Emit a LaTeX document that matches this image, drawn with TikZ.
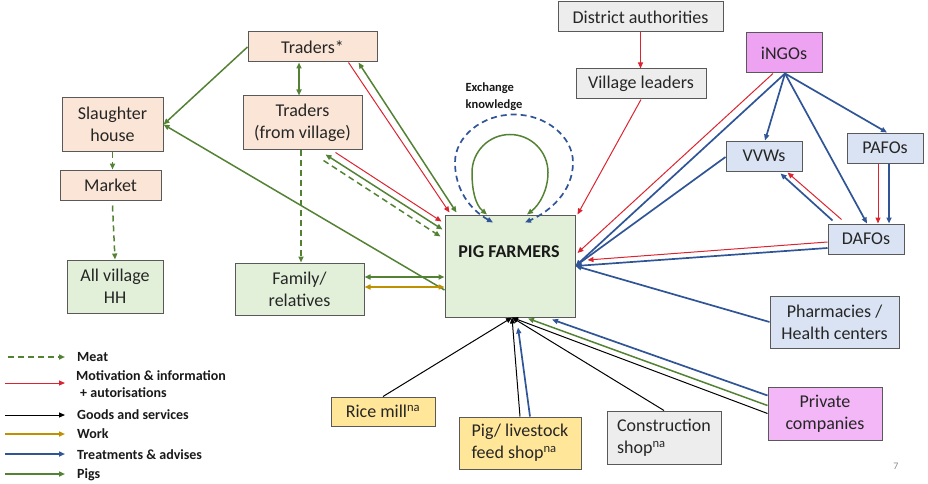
\documentclass[tikz,border=0pt]{standalone}
\usepackage{fontspec}
\setmainfont{Carlito}
\usetikzlibrary{arrows.meta,calc}
\definecolor{pinkf}{HTML}{FBE5D6}
\definecolor{greenf}{HTML}{E2F0D9}
\definecolor{grayf}{HTML}{EDEDED}
\definecolor{bluef}{HTML}{DAE3F3}
\definecolor{violf}{HTML}{EEA2F2}
\definecolor{violf2}{HTML}{F3B6F6}
\definecolor{yellowf}{HTML}{FFE699}
\definecolor{bordc}{HTML}{595959}
\definecolor{gl}{HTML}{548235}
\definecolor{rl}{HTML}{DC2430}
\definecolor{bll}{HTML}{2F5597}
\definecolor{gold}{HTML}{BF9000}
\begin{document}
\begin{tikzpicture}[x=1pt,y=-1pt,
  box/.style={draw=bordc, line width=1pt, inner sep=0pt, align=center, text=black!85,
    font=\fontsize{18}{22}\selectfont},
  arr/.style={-{Triangle[length=6pt,width=5pt]}},
  darr/.style={{Triangle[length=6pt,width=5pt]}-{Triangle[length=6pt,width=5pt]}},
  gline/.style={draw=gl, line width=1.5pt},
  rline/.style={draw=rl, line width=1pt},
  bline/.style={draw=bll, line width=1.7pt},
  kline/.style={draw=black, line width=1pt},
  oline/.style={draw=gold, line width=1.5pt},
  mdash/.style={dash pattern=on 6pt off 4pt},
  legtext/.style={font=\bfseries\fontsize{14}{17}\selectfont, text=black!90, inner sep=0pt, anchor=west, align=left}
]
\useasboundingbox (0,0) rectangle (928,484);

% boxes
\node[box,fill=pinkf,minimum width=129pt,minimum height=30pt] (trs) at (312.5,47) {Traders*};
\node[box,fill=pinkf,minimum width=101pt,minimum height=53pt] (sl) at (112.5,124.5) {Slaughter\\house};
\node[box,fill=pinkf,minimum width=119pt,minimum height=53pt] (trv) at (302.5,122.5) {Traders\\(from village)};
\node[box,fill=pinkf,minimum width=101pt,minimum height=30pt] (mk) at (110.5,185) {Market};
\node[box,fill=greenf,minimum width=96pt,minimum height=53pt] (hh) at (115,286.5) {All village\\HH};
\node[box,fill=greenf,minimum width=129pt,minimum height=52pt] (fam) at (299.5,289) {Family/\\relatives};
\node[box,fill=greenf,minimum width=130pt,minimum height=102pt] (pf) at (510,266) {};
\node[font=\bfseries\fontsize{18}{22}\selectfont, text=black!90] (pft) at (509,252) {PIG FARMERS};
\node[box,fill=grayf,minimum width=165pt,minimum height=30pt] (da) at (640.5,17) {District authorities};
\node[box,fill=grayf,minimum width=130pt,minimum height=30pt] (vl) at (641,84) {Village leaders};
\node[box,fill=violf,minimum width=76pt,minimum height=40pt] (ingo) at (784,53) {iNGOs};
\node[box,fill=bluef,minimum width=76pt,minimum height=30pt] (vvw) at (764,156) {VVWs};
\node[box,fill=bluef,minimum width=76pt,minimum height=30pt] (pafo) at (885,148) {PAFOs};
\node[box,fill=bluef,minimum width=76pt,minimum height=30pt] (dafo) at (866,239) {DAFOs};
\node[box,fill=bluef,minimum width=129pt,minimum height=52pt] (ph) at (834.5,322) {Pharmacies /\\Health centers};
\node[box,fill=violf2,minimum width=114pt,minimum height=53pt] (pc) at (825,413.5) {Private\\companies};
\node[box,fill=grayf,minimum width=114pt,minimum height=53pt,align=left] (cs) at (664,437.5) {Construction\\shop\textsuperscript{na}};
\node[box,fill=yellowf,minimum width=122pt,minimum height=52pt,align=left] (fs) at (520,443) {Pig/ livestock\\feed shop\textsuperscript{na}};
\node[box,fill=yellowf,minimum width=104pt,minimum height=29pt] (rm) at (383,411.5) {Rice mill\textsuperscript{na}};

% exchange knowledge
\node[font=\bfseries\fontsize{12.5}{17}\selectfont, align=left, inner sep=0pt, text=black!90] (ek) at (494,97) {Exchange\\knowledge};

% left side
\draw[gline,arr] (trs.west) -- (sl.east);
\draw[gline,arr] ($(pf.west)+(0,24)$) -- (sl.east);
\draw[gline,darr] ($(trs.south)+(-13.5,0)$) -- ($(trv.north)+(-3.5,0)$);
\draw[gline,mdash,arr] (sl.south) -- (sl.south |- mk.north);
\draw[gline,mdash,arr] ($(mk.south)+(2,5)$) -- (hh.north);
\draw[gline,mdash,arr] ($(trv.south)+(-1.5,0)$) -- ($(fam.north)+(1.5,0)$);

\draw[rline,arr] ($(trs.south east)+(-29,0)$) -- ($(pf.north west)+(5,-2)$);
\draw[gline,darr] ($(trs.south east)+(-19,0)$) -- ($(pf.north west)+(12,-2)$);
\draw[rline,arr] ($(trv.south east)+(-27,3)$) -- ($(pf.north west)+(-3,7)$);
\draw[gline,darr] ($(trv.south east)+(-37,5)$) -- ($(pf.north west)+(-2,15)$);
\draw[gline,mdash,arr] ($(trv.south east)+(-39,11)$) -- ($(pf.north west)+(-4,22)$);

\draw[gline,darr] ($(fam.east)+(0,-12)$) -- ($(pf.west)+(0,11)$);
\draw[oline,darr] ($(fam.east)+(0,-2)$) -- ($(pf.west)+(0,21)$);

% loops (pig farmers to pig farmers)
\coordinate (gc) at ($(pf.north)+(0,-42)$);
\coordinate (bc) at ($(pf.north)+(4,-52)$);
\draw[gline,darr] ($(pf.north)+(-23,0)$)
  .. controls ($(gc)+(-35,32)$) and ($(gc)+(-38,17)$) .. ($(gc)+(-38,0)$)
  .. controls ($(gc)+(-38,-21)$) and ($(gc)+(-21,-38)$) .. ($(gc)+(0,-38)$)
  .. controls ($(gc)+(21,-38)$) and ($(gc)+(38,-21)$) .. ($(gc)+(38,0)$)
  .. controls ($(gc)+(38,17)$) and ($(gc)+(30,32)$) .. ($(pf.north)+(17,0)$);
\draw[bline,mdash,darr] ($(pf.north)+(-17,8)$)
  .. controls ($(bc)+(-44,47)$) and ($(bc)+(-59,27)$) .. ($(bc)+(-59,0)$)
  .. controls ($(bc)+(-59,-26)$) and ($(bc)+(-32,-48)$) .. ($(bc)+(0,-48)$)
  .. controls ($(bc)+(32,-48)$) and ($(bc)+(59,-26)$) .. ($(bc)+(59,0)$)
  .. controls ($(bc)+(59,29)$) and ($(bc)+(36,49)$) .. ($(pf.north)+(15,8)$);

% top right
\draw[rline,arr] (da.south) -- (da.south |- vl.north);
\draw[rline,arr] (vl.south) -- ($(pf.north east)+(2,0)$);
\draw[rline,arr] ($(ingo.south)+(-11,0)$) -- ($(pf.east)+(2,-13)$);
\draw[bline,arr] ($(ingo.south)+(1,0)$) -- (pf.east);
\draw[bline,arr] ($(vvw.west)+(0,1)$) -- (pf.east);
\draw[rline,arr] ($(dafo.west)+(0,3)$) -- ($(pf.east)+(12,-6)$);
\draw[bline,arr] ($(dafo.west)+(0,9)$) -- (pf.east);
\draw[bline,arr] (ph.west) -- (pf.east);
\draw[bline,arr] ($(ingo.south)+(1,0)$) -- ($(vvw.north)+(1,0)$);
\draw[bline,arr] ($(ingo.south)+(1,0)$) -- ($(dafo.north)+(1,0)$);
\draw[bline,arr] ($(ingo.south)+(1,0)$) -- ($(pafo.north)+(2,0)$);
\draw[rline,arr] ($(pafo.south)+(-7,0)$) -- ($(dafo.north)+(12,0)$);
\draw[bline,arr] ($(pafo.south)+(4,0)$) -- ($(dafo.north)+(23,0)$);
\draw[rline,arr] ($(dafo.north west)+(14,-4)$) -- ($(vvw.south east)+(-15,1)$);
\draw[bline,arr] ($(dafo.north west)+(5,-3)$) -- ($(vvw.south east)+(-22,2)$);

% bottom
\draw[kline,arr] (rm.north) -- ($(pf.south)+(2,0)$);
\draw[kline,arr] (fs.north) -- ($(pf.south)+(2,0)$);
\draw[bline,arr] ($(fs.north)+(10,0)$) -- ($(pf.south)+(8,10)$);
\draw[kline,arr] (cs.north) -- ($(pf.south)+(2,0)$);
\draw[kline,arr] (pc.west) -- ($(pf.south)+(2,0)$);
\draw[gline,arr] ($(pc.west)+(0,-8)$) -- ($(pf.south)+(18,1)$);
\draw[bline,arr] ($(pc.west)+(0,-18)$) -- ($(pf.south)+(42,2)$);

% legend
\node[legtext] (lg1) at (77,357) {Meat};
\node[legtext] (lg2) at (76,384.5) {Motivation \& information\\\hspace{4pt}+ autorisations};
\node[legtext] (lg3) at (77,415) {Goods and services};
\node[legtext] (lg4) at (77,434) {Work};
\node[legtext] (lg5) at (77,455) {Treatments \& advises};
\node[legtext] (lg6) at (77,475) {Pigs};
\coordinate (c1) at (8,357);
\coordinate (c2) at (5,383);
\coordinate (c3) at (5,415);
\coordinate (c4) at (5,434);
\coordinate (c5) at (5,454);
\coordinate (c6) at (5,474);
\draw[gline,mdash,arr] (c1) -- ($(c1)+(57,0)$);
\draw[rline,arr] (c2) -- ($(c2)+(60,0)$);
\draw[kline,arr] (c3) -- ($(c3)+(60,0)$);
\draw[oline,arr] (c4) -- ($(c4)+(60,0)$);
\draw[bline,arr] (c5) -- ($(c5)+(60,0)$);
\draw[gline,arr] (c6) -- ($(c6)+(60,0)$);

\node[text=black!45, font=\fontsize{10}{12}\selectfont] (pg) at (896,466) {7};
\end{tikzpicture}
\end{document}
